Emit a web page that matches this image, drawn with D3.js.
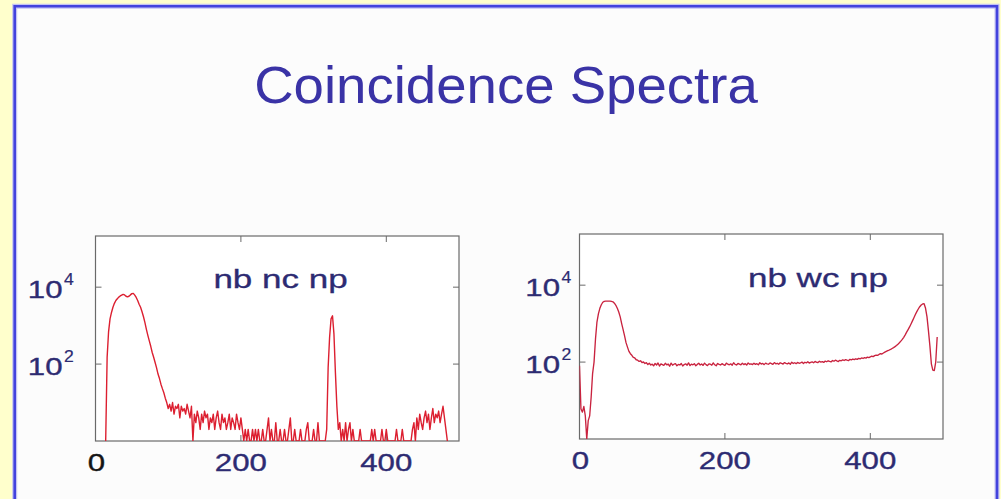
<!DOCTYPE html>
<html><head><meta charset="utf-8">
<script src="https://cdn.jsdelivr.net/npm/d3@7"></script>
<style>html,body{margin:0;padding:0;background:#ffffcc;overflow:hidden}svg{display:block}</style>
</head><body>
<svg id="c" width="1001" height="499"></svg>
<script>
// ---------------- data ----------------
const titleText = "Coincidence Spectra";
const panelLabels = ["nb nc np", "nb wc np"];
const xTickValues = [0, 200, 400];
const xTickLabels = ["0", "200", "400"];
const yTickValues = [100, 10000];
const yTickBase = "10";
const yTickExponents = ["2", "4"];
const xDomain = [0, 500];
const yDomain = [1, 2.14e5];

// nb nc np spectrum: counts per channel, starting channel and step
const leftStartChannel = 14;
const leftStep = 2;
const leftCounts = [
  1, 150, 700, 1500, 2200, 3000, 3800, 4500, 5000, 5500,
  5900, 6200, 6500, 6300, 5800, 5600, 5800, 6300, 6800, 6900,
  6200, 5400, 4500, 3600, 3000, 2300, 1700, 1200, 800, 560,
  400, 290, 200, 150, 110, 80, 55, 42, 30, 23,
  18, 13, 10, 7,
  9, 6, 10, 5, 8, 7, 9, 4, 8, 6, 7, 5, 9, 6, 4, 8,
  1,
  5, 3, 6, 4, 2, 5, 3, 6, 4, 5, 2, 4, 3, 5, 2, 4, 6, 3, 2, 5, 3, 4, 2, 3, 5, 2, 4, 3, 2, 5, 3, 2, 4,
  2, 1, 2, 1, 2, 1, 1, 2, 1, 2,  1, 2, 1, 1, 2, 1, 1, 2, 4, 1,
  2, 1, 1, 3, 1, 1, 2, 1, 1, 2,  1, 1, 2, 4, 1, 1, 2, 1, 1, 1,
  2, 1, 1, 1, 2, 3, 1, 1, 1, 2,  1, 1, 3, 1, 1, 1, 1, 1, 2,
  80, 500, 1500, 1800, 600, 60, 8, 2,
  3, 1, 2, 1, 3, 1, 2, 3, 1, 2,  1, 1, 1, 1, 2, 1, 1, 1, 1, 1,
  1, 1, 2, 1, 2, 1, 1, 1, 1, 2,  1, 1, 2, 1, 1, 1, 1, 1, 1, 2,
  1, 1, 1, 2, 1, 1, 1, 1, 1, 1,
  2, 3, 1, 4, 2, 5, 3, 2, 4, 6,  3, 5, 2, 4, 7, 3, 5, 4, 6, 3,
  5, 8, 4, 2, 1
];

// nb wc np spectrum
const rightStartChannel = 0;
const rightStep = 2;
const rightCounts = [
  80, 6, 5, 7, 4, 1, 3, 4, 12, 50,
  100, 400, 1100, 1800, 2500, 3100, 3600, 3800, 3850, 3850,
  3850, 3850, 3800, 3700, 3400, 3000, 2500, 2000, 1500, 1000,
  700, 480, 320, 245, 190, 165, 150, 132, 128, 115,
  112, 104, 108, 97, 101, 92, 97, 86, 93, 84,
  88, 80, 92, 84, 95, 79, 90, 86, 82, 93,
  85, 89, 78, 94, 83, 88, 91, 80, 87, 84,
  92, 79, 86, 90, 83, 95, 81, 88, 85, 91,
  80, 87, 93, 84, 89, 82, 94, 86, 81, 90,
  88, 83, 95, 85, 80, 92, 87, 84, 91, 86,
  82, 94, 88, 85, 90, 83, 96, 87, 84, 92,
  89, 85, 93, 86, 91, 84, 95, 88, 90, 86,
  93, 87, 91, 85, 96, 89, 92, 86, 94, 90,
  88, 95, 91, 87, 97, 90, 93, 88, 96, 92,
  89, 97, 93, 90, 95, 88, 99, 92, 96, 91,
  98, 93, 96, 100, 92, 99, 95, 102, 94, 98,
  101, 96, 104, 99, 97, 105, 100, 103, 98, 106,
  102, 108, 104, 101, 110, 105, 112, 107, 103, 111,
  108, 114, 110, 116, 112, 109, 118, 114, 120, 116,
  122, 118, 125, 121, 128, 124, 130, 127, 134, 131,
  137, 142, 139, 147, 152, 149, 158, 165, 162, 172,
  182, 190, 198, 206, 215, 226, 238, 252, 270, 292,
  318, 350, 390, 440, 510, 600, 700, 820, 980, 1180,
  1420, 1720, 2050, 2400, 2750, 3050, 3250, 3300, 2500, 1500,
  650, 260, 90, 62, 60, 100, 450
];

// ---------------- drawing ----------------
const svg = d3.select("#c");
const FONT = "Liberation Sans, Arial, Helvetica, sans-serif";

// slide frame
svg.append("rect").attr("x", 14.7).attr("y", 6.3).attr("width", 982.3).attr("height", 500)
  .attr("fill", "#fcfcfc");
const framePath = "M14.7,500 V6.3 H997 V500";
svg.append("path").attr("d", framePath).attr("fill", "none").attr("stroke", "#c4c4f2").attr("stroke-width", 5);
svg.append("path").attr("d", framePath).attr("fill", "none").attr("stroke", "#4343dd").attr("stroke-width", 2.6);

function stext(parent, x, y, txt, size, sx, anchor, color, weight) {
  const t = parent.append("text")
    .attr("transform", `translate(${x},${y}) scale(${sx},1)`)
    .attr("text-anchor", anchor)
    .attr("font-family", FONT)
    .attr("font-size", size)
    .attr("fill", color)
    .text(txt);
  if (weight) t.attr("stroke", color).attr("stroke-width", weight);
  return t;
}

stext(svg, 506, 103, titleText, 52, 1.05, "middle", "#3a33a6");

const panels = [
  { x0: 95.5, x1: 459, y0: 236, y1: 441, counts: leftCounts, start: leftStartChannel, step: leftStep,
    label: panelLabels[0], labelX: 280.5, labelY: 288, yLabRight: 62.5, line: "#dc1f30", lw: 1.4, zeroColor: "#151515" },
  { x0: 579.5, x1: 943, y0: 234, y1: 439, counts: rightCounts, start: rightStartChannel, step: rightStep,
    label: panelLabels[1], labelX: 818, labelY: 287, yLabRight: 560, line: "#c9233f", lw: 1.35, zeroColor: "#2d2b72" }
];

const navy = "#2d2b72";

panels.forEach((p, pi) => {
  const x = d3.scaleLinear().domain(xDomain).range([p.x0, p.x1]);
  const y = d3.scaleLog().domain(yDomain).range([p.y1, p.y0]).clamp(true);
  const g = svg.append("g");

  const clipId = "clip" + pi;
  svg.append("clipPath").attr("id", clipId).append("rect")
    .attr("x", p.x0).attr("y", p.y0 - 1).attr("width", p.x1 - p.x0).attr("height", p.y1 - p.y0 + 1);

  // frame box
  g.append("rect").attr("x", p.x0).attr("y", p.y0).attr("width", p.x1 - p.x0).attr("height", p.y1 - p.y0)
    .attr("fill", "#ffffff").attr("stroke", "#6a6a6a").attr("stroke-width", 1.2);

  // inward ticks on all four sides
  const tl = 6;
  xTickValues.filter(v => v > xDomain[0]).forEach(v => {
    g.append("line").attr("x1", x(v)).attr("x2", x(v)).attr("y1", p.y0).attr("y2", p.y0 + tl)
      .attr("stroke", "#6a6a6a").attr("stroke-width", 1);
    g.append("line").attr("x1", x(v)).attr("x2", x(v)).attr("y1", p.y1).attr("y2", p.y1 - tl)
      .attr("stroke", "#6a6a6a").attr("stroke-width", 1);
  });
  yTickValues.forEach(v => {
    g.append("line").attr("x1", p.x0).attr("x2", p.x0 + tl).attr("y1", y(v)).attr("y2", y(v))
      .attr("stroke", "#6a6a6a").attr("stroke-width", 1);
    g.append("line").attr("x1", p.x1).attr("x2", p.x1 - tl).attr("y1", y(v)).attr("y2", y(v))
      .attr("stroke", "#6a6a6a").attr("stroke-width", 1);
  });

  // spectrum
  const pts = p.counts.map((v, i) => ({ ch: p.start + i * p.step, v: v }));
  const line = d3.line().x(d => x(d.ch)).y(d => y(d.v));
  g.append("path").datum(pts).attr("d", line).attr("fill", "none")
    .attr("stroke", p.line).attr("stroke-width", p.lw).attr("stroke-linejoin", "round")
    .attr("clip-path", `url(#${clipId})`);

  // x tick labels
  xTickValues.forEach((v, i) => {
    stext(g, x(v) + (i === 0 ? 1 : 0), p.y1 + 30, xTickLabels[i], 24, 1.3, "middle",
      i === 0 ? p.zeroColor : navy, 0.35);
  });

  // y tick labels 10^n
  yTickValues.forEach((v, i) => {
    stext(g, p.yLabRight, y(v) + 11, yTickBase, 24, 1.3, "end", navy, 0.35);
    stext(g, p.yLabRight + 1.5, y(v) - 2.5, yTickExponents[i], 16, 1.1, "start", navy, 0.2);
  });

  // panel label
  stext(g, p.labelX, p.labelY, p.label, 25, 1.4, "middle", navy, 0.3);
});
</script>
</body></html>
